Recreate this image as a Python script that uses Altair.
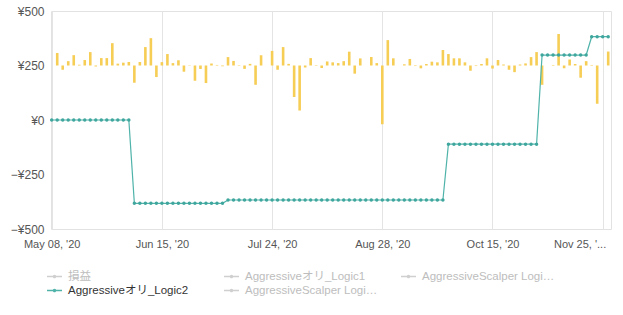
import json
import altair as alt
import pandas as pd

# ---- categories (trading days, 2020) ----
day_strings = (
    "05-08 05-11 05-12 05-13 05-14 05-15 05-18 05-19 05-20 05-22 05-25 05-26 05-27 05-29 06-01 06-02 06-04 06-08 06-09 06-11 "
    "06-15 06-16 06-17 06-18 06-19 06-22 06-23 06-25 06-26 06-29 06-30 07-01 07-03 07-06 07-08 07-09 07-13 07-15 07-17 07-21 "
    "07-24 07-27 07-28 07-29 07-30 07-31 08-03 08-04 08-05 08-07 08-10 08-11 08-12 08-14 08-17 08-18 08-20 08-21 08-25 08-26 "
    "08-28 08-31 09-01 09-03 09-04 09-07 09-09 09-10 09-14 09-16 09-17 09-21 09-23 09-25 09-28 09-30 10-02 10-06 10-08 10-12 "
    "10-15 10-16 10-19 10-21 10-22 10-26 10-27 10-29 10-30 11-02 11-04 11-05 11-06 11-09 11-11 11-13 11-16 11-18 11-19 11-23 "
    "11-25 11-27"
).split()
dates = ["2020-" + d for d in day_strings]

# ---- series values ----
pnl = [
    0, 115, -39, 40, 95, 7, 50, 123, -9, 68, 68, 205, 17, 26, 32, -158, 32, 169, 251, -106,
    31, 105, 22, 48, -57, 3, -140, -32, -161, 18, 5, -7, 77, 42, 4, -31, 15, -177, 94, 0,
    134, -39, 169, 15, -289, -413, -18, 68, 4, -23, 37, 29, 22, 40, 127, -75, 65, 0, 78, 22,
    -539, 233, 66, 0, 11, 60, -5, -26, 14, 35, 29, 142, 105, 66, 66, 29, -48, -5, 14, 66,
    -28, 50, 9, -39, -61, 9, 19, 77, 123, -177, 0, 5, 289, -26, 55, 14, -112, 40, 5, -351,
    0, 128,
]
logic2 = [
    0, 0, 0, 0, 0, 0, 0, 0, 0, 0, 0, 0, 0, 0, 0,
    -382, -382, -382, -382, -382, -382, -382, -382, -382, -382, -382, -382, -382, -382, -382, -382, -382,
    -367, -367, -367, -367, -367, -367, -367, -367, -367, -367, -367, -367, -367, -367, -367, -367, -367, -367, -367, -367,
    -367, -367, -367, -367, -367, -367, -367, -367, -367, -367, -367, -367, -367, -367, -367, -367, -367, -367, -367, -367,
    -111, -111, -111, -111, -111, -111, -111, -111, -111, -111, -111, -111, -111, -111, -111, -111, -111,
    298, 298, 298, 298, 298, 298, 298, 298, 298,
    382, 382, 382, 382,
]

# ---- tick labels / legend ----
tick_dates = ["2020-05-08", "2020-06-15", "2020-07-24", "2020-08-28", "2020-10-15", "2020-11-25"]
tick_labels = ["May 08, '20", "Jun 15, '20", "Jul 24, '20", "Aug 28, '20", "Oct 15, '20", "Nov 25, '..."]
y_tick_values = [-500, -450, -400, -350, -300, -250, -200, -150, -100, -50, 0,
                 50, 100, 150, 200, 250, 300, 350, 400, 450, 500]
series_names = ["損益", "Aggressiveオリ_Logic1", "AggressiveScalper Logic_1",
                "Aggressiveオリ_Logic2", "AggressiveScalper Logic_2"]
series_colors = ["#cfcfcf", "#cfcfcf", "#cfcfcf", "#4fb3aa", "#cfcfcf"]
active_series = "Aggressiveオリ_Logic2"

FONT = "Liberation Sans, Noto Sans CJK JP, sans-serif"

bars_df = pd.DataFrame({"date": dates, "pnl": pnl})
line_df = pd.DataFrame({"date": dates, "value": logic2, "series": active_series})

x_label_expr = "{}[indexof({}, datum.value)]".format(json.dumps(tick_labels), json.dumps(tick_dates))
last_tick_test = "datum.value === '" + tick_dates[-1] + "'"

x_enc = alt.X(
    "date:O",
    sort=None,
    scale=alt.Scale(type="point", padding=0, range=[0.7, 557.2]),
    axis=alt.Axis(
        values=tick_dates, labelExpr=x_label_expr, grid=True, gridColor="#e4e4e4",
        ticks=False, domain=False, labelAngle=0, labelPadding=9, labelFontSize=11,
        labelColor="#555555", labelFont=FONT, title=None, labelOverlap=False,
        labelAlign={"condition": {"test": last_tick_test, "value": "right"}, "value": "center"},
        labelOffset={"condition": {"test": last_tick_test, "value": 3}, "value": 0},
    ),
)

bars = alt.Chart(bars_df).mark_bar(size=2.6, color="#f6cd55").encode(
    x=x_enc,
    y=alt.Y("pnl:Q", scale=alt.Scale(domain=[-1500, 500], nice=False), axis=None),
)

y_axis = alt.Axis(
    values=y_tick_values,
    labelExpr="datum.value % 250 === 0 ? (datum.value < 0 ? '\u2212' : '') + '\u00a5' + abs(datum.value) : ''",
    gridColor={"condition": {"test": "datum.value % 250 === 0", "value": "#e2e2e2"}, "value": "#f4f4f4"},
    ticks=False, domain=False, labelPadding=7, labelFontSize=12, labelColor="#555555",
    labelFont=FONT, title=None, labelOverlap=False,
)

y_scale = alt.Scale(domain=[-500, 500], nice=False)

symbol_path = "M-1,0L1,0M-0.15,0A0.15,0.15,0,1,1,0.15,0A0.15,0.15,0,1,1,-0.15,0"

line = alt.Chart(line_df).mark_line(strokeWidth=1.2).encode(
    x=x_enc,
    y=alt.Y("value:Q", scale=y_scale, axis=y_axis),
    color=alt.Color(
        "series:N",
        scale=alt.Scale(domain=series_names, range=series_colors),
        legend=alt.Legend(
            orient="none", legendX=-5, legendY=257, columns=3, gridAlign="all",
            direction="horizontal",
            columnPadding=20, rowPadding=0, padding=0, title=None,
            symbolType=symbol_path, symbolSize=225, symbolStrokeWidth=1.3,
            labelOffset=5, labelLimit=133, labelFontSize=11.5, labelFont=FONT,
            labelColor=alt.ExprRef(expr="datum.value === '" + active_series + "' ? '#333333' : '#bdbdbd'"),
        ),
    ),
)

points = alt.Chart(line_df).mark_point(filled=True, size=12, opacity=1, color="#3fa69d").encode(
    x=x_enc,
    y=alt.Y("value:Q", scale=y_scale, axis=None),
)

chart = (
    alt.layer(bars, line, points)
    .resolve_scale(y="independent")
    .properties(
        width=560, height=218,
        autosize=alt.AutoSizeParams(type="none"),
        padding={"left": 51, "top": 11, "right": 12, "bottom": 86},
    )
    .configure_view(stroke="#e2e2e2")
)

chart.save("out.html", embed_options={"renderer": "svg", "actions": False})
